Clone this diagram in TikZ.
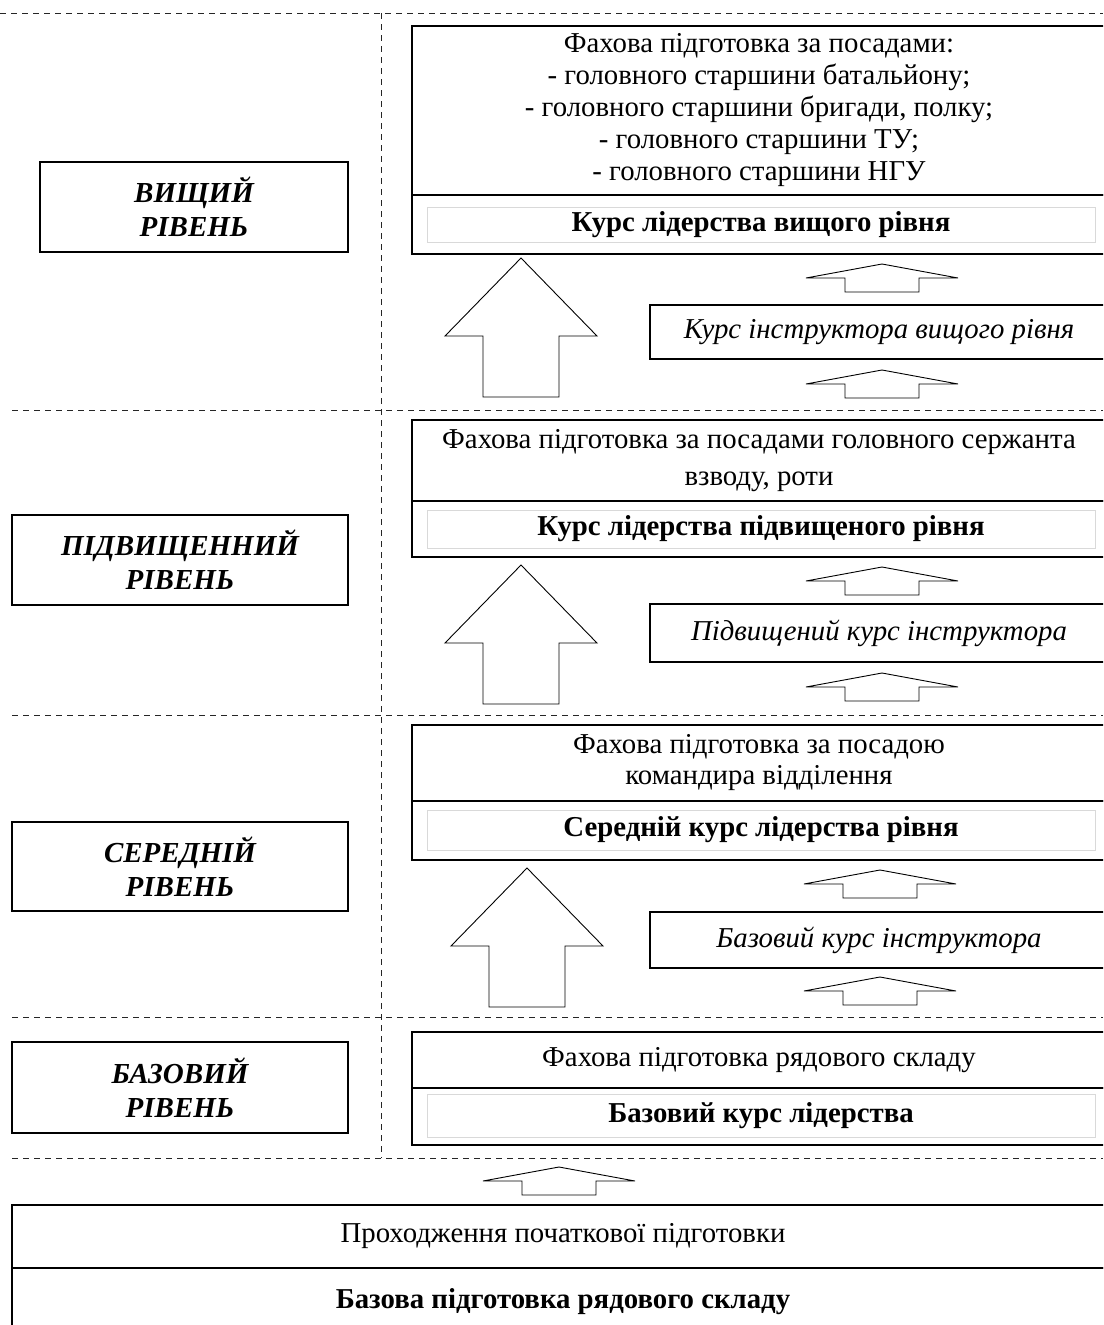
\documentclass[tikz,border=0pt]{standalone}
\usepackage{fontspec}
\setmainfont{Liberation Serif}
\usetikzlibrary{positioning}

\begin{document}
\begin{tikzpicture}[x=1pt, y=-1pt,
        box/.style={draw, line width=1.3pt, inner sep=0pt, align=center, font=\fontsize{28.8}{32}\selectfont},
        innerbox/.style={draw=black!15, line width=0.8pt, inner sep=0pt, font=\fontsize{28.8}{32}\selectfont\bfseries},
        levelbox/.style={box, font=\fontsize{29}{34}\selectfont\bfseries\itshape},
        border/.style={dash pattern=on 6pt off 5pt, line width=1pt, black!85},
        blockarrow/.style={draw, line width=0.9pt, line join=miter}]
        \useasboundingbox (0,0) rectangle (1103,1325);
        \clip (0,0) rectangle (1103,1325);

        % Level borders
        \foreach \y in {410,715,1017,1158} \draw[border] (12,\y) -- (1103,\y);
        \draw[border] (0,13) -- (1103,13);
        \draw[border] (381,13) -- (381,1158);

        % Level labels
        \node[levelbox, minimum width=308, minimum height=90] (lvlHigh) at (194,207) {ВИЩИЙ\\РІВЕНЬ};
        \node[levelbox, minimum width=336, minimum height=90] (lvlUpper) at (180,560) {ПІДВИЩЕННИЙ\\РІВЕНЬ};
        \node[levelbox, minimum width=336, minimum height=89] (lvlMid) at (180,866.5) {СЕРЕДНІЙ\\РІВЕНЬ};
        \node[levelbox, minimum width=336, minimum height=91] (lvlBase) at (180,1087.5) {БАЗОВИЙ\\РІВЕНЬ};

        % Trainings and leadership courses
        \node[box, minimum width=694, minimum height=169] (trainHigh) at (759,110.5) {Фахова підготовка за посадами:\\- головного старшини батальйону;\\- головного старшини бригади, полку;\\- головного старшини ТУ;\\- головного старшини НГУ};
        \node[box, minimum width=694, minimum height=59] (courseHigh) at (759,224.5) {};
        \node[innerbox, minimum width=668, minimum height=35] (courseHighTxt) at (761,224.5) {Курс лідерства вищого рівня};

        \node[box, minimum width=694, minimum height=81, font=\fontsize{28.8}{37}\selectfont] (trainUpper) at (759,460.5) {Фахова підготовка за посадами головного сержанта\\взводу, роти};
        \node[box, minimum width=694, minimum height=56] (courseUpper) at (759,529) {};
        \node[innerbox, minimum width=668, minimum height=38] (courseUpperTxt) at (761,529) {Курс лідерства підвищеного рівня};

        \node[box, minimum width=694, minimum height=76, font=\fontsize{28.8}{31}\selectfont] (trainMid) at (759,763) {Фахова підготовка за посадою\\командира відділення};
        \node[box, minimum width=694, minimum height=59] (courseMid) at (759,830.5) {};
        \node[innerbox, minimum width=668, minimum height=40] (courseMidTxt) at (761,830) {Середній курс лідерства рівня};

        \node[box, minimum width=694, minimum height=56] (trainBase) at (759,1060) {Фахова підготовка рядового складу};
        \node[box, minimum width=694, minimum height=57] (courseBase) at (759,1116.5) {};
        \node[innerbox, minimum width=668, minimum height=43] (courseBaseTxt) at (761,1115.5) {Базовий курс лідерства};

        % Instructor courses
        \node[box, minimum width=458, minimum height=54, font=\fontsize{28.8}{32}\selectfont\itshape] (instrHigh) at (879,332) {Курс інструктора вищого рівня};
        \node[box, minimum width=458, minimum height=58, font=\fontsize{28.8}{32}\selectfont\itshape] (instrUpper) at (879,633) {Підвищений курс інструктора};
        \node[box, minimum width=458, minimum height=56, font=\fontsize{28.8}{32}\selectfont\itshape] (instrMid) at (879,940) {Базовий курс інструктора};

        % Initial training
        \node[box, minimum width=1102, minimum height=63] (initTrain) at (563,1236.5) {Проходження початкової підготовки};
        \node[box, minimum width=1102, minimum height=67, font=\fontsize{28.8}{32}\selectfont\bfseries] (basicTrain) at (563,1301.5) {Базова підготовка рядового складу};

        % Big arrows between levels
        \foreach \tx/\ty in {521/258, 521/565, 527/868}
            \draw[blockarrow] (\tx,\ty) -- ++(76,78) -- ++(-38,0) -- ++(0,61) -- ++(-76,0) -- ++(0,-61) -- ++(-38,0) -- cycle;

        % Small arrows
        \foreach \tx/\ty in {882/264, 882/370, 882/567, 882/673, 880/870, 880/977, 559/1167}
            \draw[blockarrow] (\tx,\ty) -- ++(76,14) -- ++(-39,0) -- ++(0,14) -- ++(-74,0) -- ++(0,-14) -- ++(-39,0) -- cycle;
\end{tikzpicture}
\end{document}
